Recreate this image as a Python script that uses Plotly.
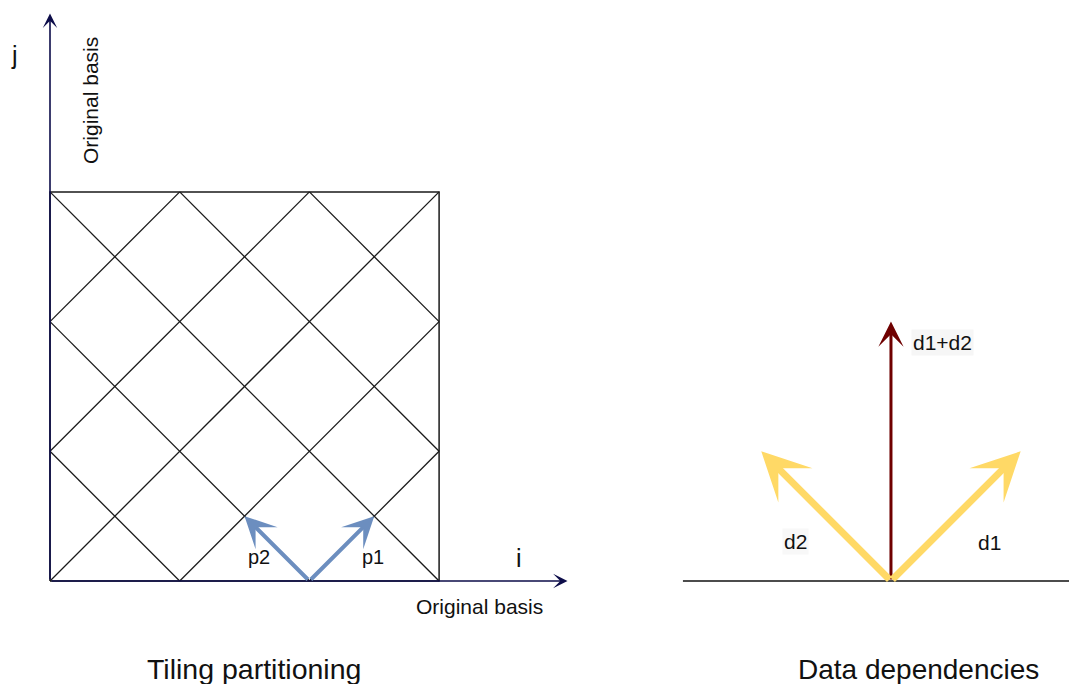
import plotly.graph_objects as go

# ---------------- data (in grid units) ----------------
GRID_CELLS = 3                       # square is 3 x 3 units
DIAG_DOWN_SUMS = [1, 2, 3, 4, 5]     # lines x + y = c
DIAG_UP_DIFFS = [-2, -1, 0, 1, 2]    # lines y - x = c
AXIS_I_END = 3.99                    # length of the i axis
AXIS_J_END = 4.375                   # length of the j axis

P_ORIGIN = [2, 0]
P1 = [0.5, 0.5]
P2 = [-0.5, 0.5]

D_ORIGIN = [6.484, 0]
D1 = [1.0, 1.0]
D2 = [-1.0, 1.0]
D_SUM = [D1[0] + D2[0], D1[1] + D2[1]]
D_BASE = [4.88, 8.2]                 # extent of the right-hand baseline (runs off the edge)

LABELS_LEFT = ["j", "Original basis", "i", "Original basis", "p2", "p1"]
LABELS_RIGHT = ["d1+d2", "d2", "d1"]
TITLES = ["Tiling partitioning", "Data dependencies"]

# ---------------- layout geometry ----------------
W, H = 1077, 684
PAGE_OFF = 8         # default body margin of the html page
U = 129.7            # pixels per unit
OX, OY = 50 - PAGE_OFF, 581 - PAGE_OFF   # pixel position of the left origin inside the figure
FONT = "Liberation Sans, Arial, Helvetica, sans-serif"

NAVY = "#0d0d4a"
BLUE = "#6c8ebf"
YELLOW = "#ffd966"
DARKRED = "#6f0000"


def px(x):
    return (x - PAGE_OFF) / W


def py(y):
    return 1 - (y - PAGE_OFF) / H


# grid diagonals
gx, gy = [], []
n = GRID_CELLS
for c in DIAG_DOWN_SUMS:
    x0, x1 = max(0, c - n), min(n, c)
    gx += [x0, x1, None]
    gy += [c - x0, c - x1, None]
for c in DIAG_UP_DIFFS:
    x0, x1 = max(0, -c), min(n, n - c)
    gx += [x0, x1, None]
    gy += [x0 + c, x1 + c, None]

fig = go.Figure()
fig.add_trace(go.Scatter(x=gx, y=gy, mode="lines",
                         line=dict(color="#1a1a1a", width=1.3),
                         hoverinfo="skip", showlegend=False))
# square outline
fig.add_trace(go.Scatter(x=[0, 0, n, n, 0], y=[0, n, n, 0, 0], mode="lines",
                         line=dict(color="#1a1a1a", width=1.5),
                         hoverinfo="skip", showlegend=False))
# right-hand baseline (its arrow tip is cut by the edge)
fig.add_trace(go.Scatter(x=D_BASE, y=[0, 0], mode="lines",
                         line=dict(color="#111111", width=1.6),
                         hoverinfo="skip", showlegend=False))

annotations = []


def arrow(x0, y0, x1, y1, color, width, size):
    annotations.append(dict(
        x=x1, y=y1, ax=x0, ay=y0, xref="x", yref="y", axref="x", ayref="y",
        text="", showarrow=True, arrowhead=3, arrowsize=size,
        arrowwidth=width, arrowcolor=color, standoff=0, startstandoff=0))


# original basis axes
arrow(0, 0, AXIS_I_END, 0, NAVY, 1.6, 1.5)
arrow(0, 0, 0, AXIS_J_END, NAVY, 1.6, 1.5)

# tiling basis vectors
arrow(P_ORIGIN[0], P_ORIGIN[1], P_ORIGIN[0] + P1[0], P_ORIGIN[1] + P1[1], BLUE, 4, 1.3)
arrow(P_ORIGIN[0], P_ORIGIN[1], P_ORIGIN[0] + P2[0], P_ORIGIN[1] + P2[1], BLUE, 4, 1.3)

# right diagram
arrow(D_ORIGIN[0], D_ORIGIN[1], D_ORIGIN[0] + D_SUM[0], D_ORIGIN[1] + D_SUM[1], DARKRED, 3, 1.4)
arrow(D_ORIGIN[0], D_ORIGIN[1], D_ORIGIN[0] + D1[0], D_ORIGIN[1] + D1[1], YELLOW, 7, 1.15)
arrow(D_ORIGIN[0], D_ORIGIN[1], D_ORIGIN[0] + D2[0], D_ORIGIN[1] + D2[1], YELLOW, 7, 1.15)


def label(text, x, y, size, angle=0, bg=None):
    annotations.append(dict(
        x=px(x), y=py(y), xref="paper", yref="paper", text=text,
        showarrow=False, xanchor="center", yanchor="middle", textangle=angle,
        font=dict(family=FONT, size=size, color="#111111"),
        bgcolor=bg))


label(LABELS_LEFT[0], 15, 55, 25)
label(LABELS_LEFT[1], 91, 101, 21, angle=-90)
label(LABELS_LEFT[2], 519, 558, 25)
label(LABELS_LEFT[3], 479, 606, 21)
label(LABELS_LEFT[4], 259, 557, 20)
label(LABELS_LEFT[5], 373, 557, 20)
label(LABELS_RIGHT[0], 942, 343, 21, bg="rgba(246,246,246,1)")
label(LABELS_RIGHT[1], 795, 541, 21, bg="rgba(248,248,248,1)")
label(LABELS_RIGHT[2], 989, 542, 21)
label(TITLES[0], 254, 669, 28.5)
label(TITLES[1], 918, 669, 28)

fig.update_layout(
    width=W, height=H, margin=dict(l=0, r=0, t=0, b=0),
    paper_bgcolor="white", plot_bgcolor="white",
    xaxis=dict(range=[-OX / U, (W - OX) / U], visible=False, fixedrange=True),
    yaxis=dict(range=[(OY - H) / U, OY / U], visible=False, fixedrange=True),
    annotations=annotations, showlegend=False, hovermode=False,
)
fig.write_html("out.html")
